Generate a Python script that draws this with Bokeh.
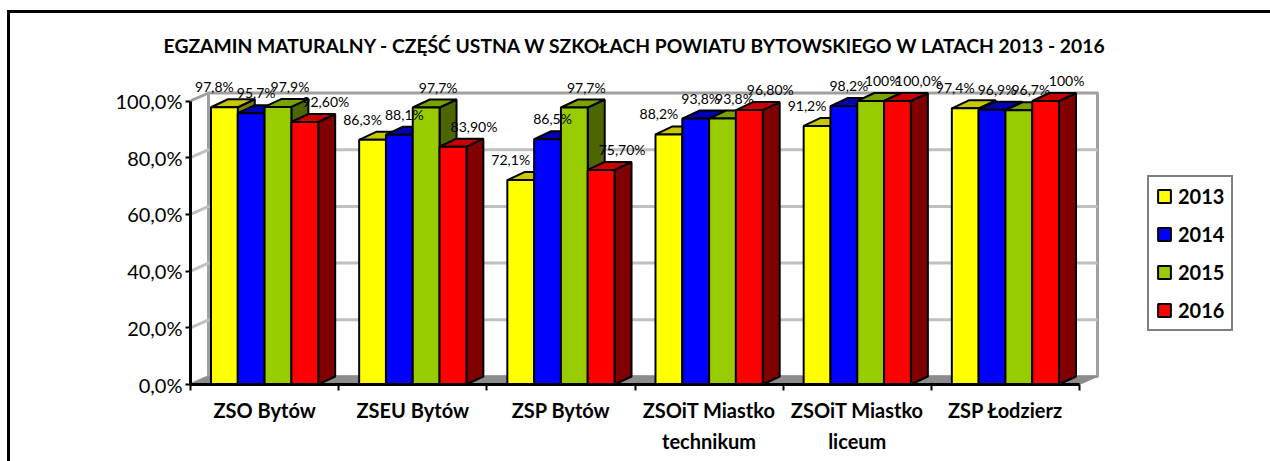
import numpy as np
from bokeh.plotting import figure
from bokeh.models import Range1d, FixedTicker, Legend, LegendItem, Title
from bokeh.core.properties import value
from bokeh.embed import file_html
from bokeh.resources import INLINE

# ---------------- data ----------------
title_text = "EGZAMIN MATURALNY - CZĘŚĆ USTNA W SZKOŁACH POWIATU BYTOWSKIEGO W LATACH 2013 - 2016"
schools = ["ZSO Bytów", "ZSEU Bytów", "ZSP Bytów", "ZSOiT Miastko\ntechnikum",
           "ZSOiT Miastko\nliceum", "ZSP Łodzierz"]
years = ["2013", "2014", "2015", "2016"]
v2013 = [97.8, 86.3, 72.1, 88.2, 91.2, 97.4]
v2014 = [95.7, 88.1, 86.5, 93.8, 98.2, 96.9]
v2015 = [97.9, 97.7, 97.7, 93.8, 100.0, 96.7]
v2016 = [92.6, 83.9, 75.7, 96.8, 100.0, 100.0]
l2013 = ["97,8%", "86,3%", "72,1%", "88,2%", "91,2%", "97,4%"]
l2014 = ["95,7%", "88,1%", "86,5%", "93,8%", "98,2%", "96,9%"]
l2015 = ["97,9%", "97,7%", "97,7%", "93,8%", "100%", "96,7%"]
l2016 = ["92,60%", "83,90%", "75,70%", "96,80%", "100,0%", "100%"]
y_ticks = [0, 20, 40, 60, 80, 100]
y_tick_labels = ["0,0%", "20,0%", "40,0%", "60,0%", "80,0%", "100,0%"]

# ---------------- styles / geometry ----------------
front_colors = ["#ffff00", "#0000ff", "#99cc00", "#ff0000"]
top_colors = ["#c8c800", "#0000b4", "#7aa300", "#c80000"]
side_colors = ["#808000", "#000080", "#4d6600", "#800000"]
label_dx = [-10, 5, 12, 21]     # horizontal nudge of the value labels (px)
FONT = "Lato"

PX_X = 148.17          # pixels per category
PX_Y = 2.835           # pixels per percent
CANVAS_X0, CANVAS_Y0 = 10, 13
AXIS_X, AXIS_Y = 190, 384
FRAME_TOP = 62
FRAME_W, FRAME_H = 1270 - AXIS_X, AXIS_Y - FRAME_TOP
WALL_DX, WALL_DY = 18 / PX_X, 8 / PX_Y     # depth of the 3D box
BAR_DX, BAR_DY = 17 / PX_X, 8 / PX_Y       # depth of each bar
BW = 26.8 / PX_X                            # bar width

n = len(schools)
ymax = y_ticks[-1]

p = figure(frame_width=FRAME_W, frame_height=FRAME_H,
           x_range=Range1d(0, FRAME_W / PX_X), y_range=Range1d(0, FRAME_H / PX_Y),
           min_border_left=AXIS_X - CANVAS_X0, min_border_right=0,
           min_border_top=FRAME_TOP - CANVAS_Y0, min_border_bottom=461 - AXIS_Y,
           output_backend="svg", toolbar_location=None, tools="")
p.styles = {"margin-left": "7px", "margin-top": "10px",
            "border-top": "3px solid black", "border-left": "3px solid black"}
p.title = Title(text=title_text, align="right", offset=1270 - 1106,
                text_font=FONT, text_font_style="bold", text_font_size="19.3px",
                text_color="black", standoff=11)
p.outline_line_color = None
p.xgrid.visible = False
p.ygrid.visible = False
p.background_fill_color = "white"
p.border_fill_color = "white"

# ---- walls and floor ----
p.patch([WALL_DX, n + WALL_DX, n + WALL_DX, WALL_DX],
        [WALL_DY, WALL_DY, ymax + WALL_DY, ymax + WALL_DY],
        fill_color="white", line_color="#a0a0a0", line_width=3)
p.patch([0, WALL_DX, WALL_DX, 0], [0, WALL_DY, ymax + WALL_DY, ymax],
        fill_color="white", line_color="#a0a0a0", line_width=3)
grid_vals = y_ticks[1:-1]
p.segment(x0=[WALL_DX] * len(grid_vals), y0=[g + WALL_DY for g in grid_vals],
          x1=[n + WALL_DX] * len(grid_vals), y1=[g + WALL_DY for g in grid_vals],
          line_color="#c0c0c0", line_width=3)
p.segment(x0=[0] * len(grid_vals), y0=grid_vals,
          x1=[WALL_DX] * len(grid_vals), y1=[g + WALL_DY for g in grid_vals],
          line_color="#c0c0c0", line_width=3)
p.patch([0, n, n + WALL_DX, WALL_DX], [0, 0, WALL_DY, WALL_DY],
        fill_color="#8c8c8c", line_color="#8c8c8c", line_width=1)

# ---- bars ----
series_vals = [v2013, v2014, v2015, v2016]
series_labs = [l2013, l2014, l2015, l2016]
legend_items = []
for k, (vals, labs) in enumerate(zip(series_vals, series_labs)):
    vals = np.array(vals, dtype=float)
    left = np.arange(n) + 0.5 - 2 * BW + k * BW
    right = left + BW
    side_xs = [[r, r + BAR_DX, r + BAR_DX, r] for r in right]
    side_ys = [[0, BAR_DY, v + BAR_DY, v] for v in vals]
    top_xs = [[l, r, r + BAR_DX, l + BAR_DX] for l, r in zip(left, right)]
    top_ys = [[v, v, v + BAR_DY, v + BAR_DY] for v in vals]
    p.patches(side_xs, side_ys, fill_color=side_colors[k], line_color="black", line_width=2)
    p.patches(top_xs, top_ys, fill_color=top_colors[k], line_color="black", line_width=2)
    fr = p.quad(left=left, right=right, bottom=0, top=vals,
                fill_color=front_colors[k], line_color="black", line_width=2)
    legend_items.append(LegendItem(label=years[k], renderers=[fr]))

# data labels (after all bars so they are on top)
for k, (vals, labs) in enumerate(zip(series_vals, series_labs)):
    left = np.arange(n) + 0.5 - 2 * BW + k * BW
    cx = left + BW / 2
    p.text(x=cx, y=np.array(vals) + BAR_DY, text=labs, text_align="center",
           text_baseline="bottom", x_offset=label_dx[k], y_offset=-4,
           text_font=value(FONT), text_font_size="14px", text_color="black")

# ---- axes ----
yax = p.yaxis[0]
yax.ticker = FixedTicker(ticks=y_ticks, minor_ticks=[])
yax.bounds = (0, ymax)
yax.major_label_overrides = {t: s for t, s in zip(y_ticks, y_tick_labels)}
yax.axis_line_width = 3
yax.axis_line_color = "black"
yax.major_tick_line_width = 2
yax.major_tick_out = 5
yax.major_tick_in = 0
yax.minor_tick_line_color = None
yax.major_label_standoff = 3
yax.major_label_text_font = FONT
yax.major_label_text_font_size = "20px"
yax.major_label_text_color = "black"

xax = p.xaxis[0]
xax.ticker = FixedTicker(ticks=[i + 0.5 for i in range(n)], minor_ticks=list(range(n + 1)))
xax.bounds = (0, n)
xax.major_label_overrides = {i + 0.5: s for i, s in enumerate(schools)}
xax.axis_line_width = 3
xax.axis_line_color = "black"
xax.major_tick_line_color = None
xax.major_tick_out = 0
xax.major_tick_in = 0
xax.minor_tick_line_color = "black"
xax.minor_tick_line_width = 2
xax.minor_tick_out = 6
xax.minor_tick_in = 0
xax.major_label_standoff = 7
xax.major_label_text_font = FONT
xax.major_label_text_font_style = "bold"
xax.major_label_text_font_size = "20px"
xax.major_label_text_line_height = 1.3
xax.major_label_text_color = "black"

# ---- legend ----
legend = Legend(items=legend_items, location=(1147 - AXIS_X, AXIS_Y - 331), orientation="vertical",
                glyph_width=16, glyph_height=16, label_height=20, label_standoff=6,
                spacing=14, padding=7, margin=0,
                label_text_font=FONT, label_text_font_style="bold",
                label_text_font_size="20px", label_text_color="black",
                border_line_color="black", border_line_width=2.5,
                background_fill_color="white", background_fill_alpha=1)
p.add_layout(legend)

open("out.html", "w").write(file_html(p, INLINE))
